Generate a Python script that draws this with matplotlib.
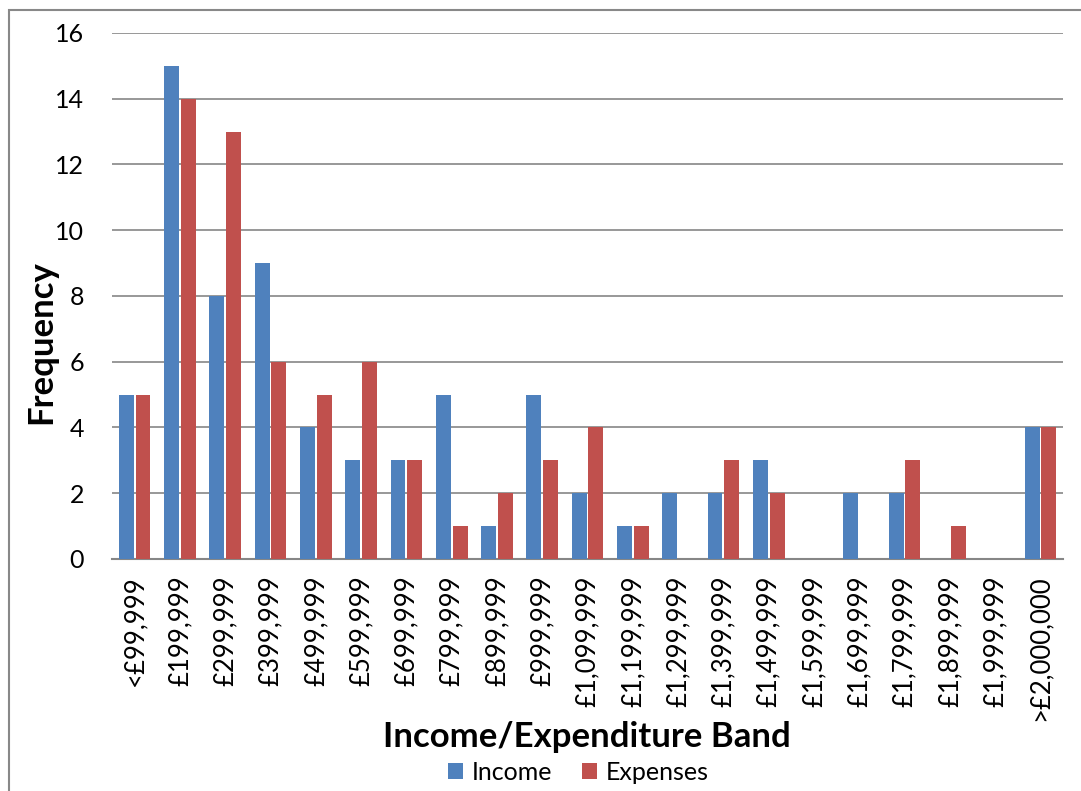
import numpy as np
import matplotlib.pyplot as plt
from matplotlib.patches import Rectangle

bands = ['<£99,999', '£199,999', '£299,999', '£399,999', '£499,999', '£599,999',
         '£699,999', '£799,999', '£899,999', '£999,999', '£1,099,999', '£1,199,999',
         '£1,299,999', '£1,399,999', '£1,499,999', '£1,599,999', '£1,699,999',
         '£1,799,999', '£1,899,999', '£1,999,999', '>£2,000,000']
income = [5, 15, 8, 9, 4, 3, 3, 5, 1, 5, 2, 1, 2, 2, 3, 0, 2, 2, 0, 0, 4]
expenses = [5, 14, 13, 6, 5, 6, 3, 1, 2, 3, 4, 1, 0, 3, 2, 0, 0, 3, 1, 0, 4]

plt.rcParams['font.family'] = ['Lato', 'DejaVu Sans']

fig = plt.figure(figsize=(10.81, 7.91), dpi=100)
ax = fig.add_axes([0.1036, 0.2933, 0.8798, 0.665])

x = np.arange(len(bands))
w = 0.33
ax.bar(x - 0.185, income, w, color='#4F81BD', label='Income', zorder=3)
ax.bar(x + 0.185, expenses, w, color='#C0504D', label='Expenses', zorder=3)

ax.set_xlim(-0.5, len(bands) - 0.5)
ax.set_ylim(0, 16)
ax.set_yticks(range(0, 17, 2))
ax.yaxis.grid(True, color='#868686', linewidth=1.2, zorder=0)
ax.set_xticks(x)
ax.set_xticklabels(bands, rotation=90, fontsize=18.5)
ax.tick_params(axis='y', labelsize=18, length=0, pad=20)
ax.tick_params(axis='x', length=0, pad=12)
for s in ['top', 'right', 'left']:
    ax.spines[s].set_visible(False)
ax.spines['bottom'].set_color('#868686')
ax.spines['bottom'].set_linewidth(1.5)

ax.set_ylabel('Frequency', fontsize=25, fontweight='bold')
ax.yaxis.set_label_coords(-0.058, 0.4125)
fig.text(0.543, 0.068, 'Income/Expenditure Band', fontsize=25, fontweight='bold',
         ha='center', va='center')
fig.legend(loc='center', bbox_to_anchor=(0.535, 0.024), ncol=2, frameon=False,
           fontsize=18, handlelength=0.6, handleheight=0.6, handletextpad=0.35,
           columnspacing=1.2)

fig.add_artist(Rectangle((9 / 1081, -0.1), 1.2, 1 - 10 / 791 + 0.1,
                         transform=fig.transFigure, fill=False,
                         edgecolor='#888888', linewidth=1.5))

fig.savefig('out.png', dpi=100)
